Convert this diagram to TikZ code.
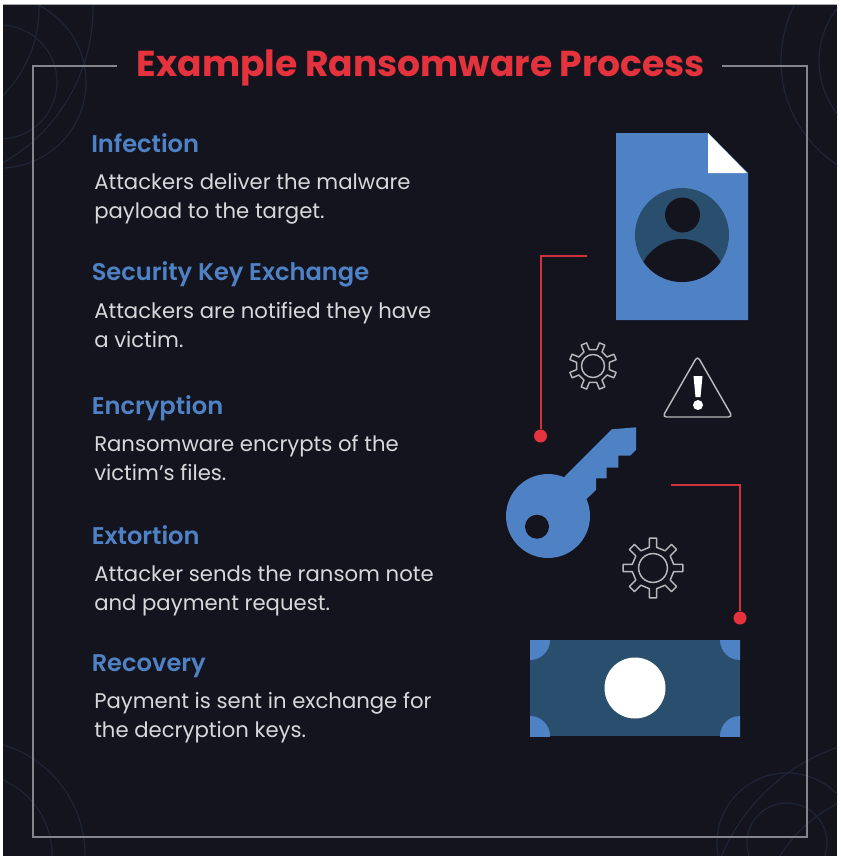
\documentclass[tikz,border=0pt]{standalone}
\usepackage{fontspec}
\setmainfont{Poppins}
\newfontfamily\semifont{Poppins SemiBold}
\definecolor{inkbg}{HTML}{14141F}
\definecolor{stepblue}{HTML}{4F82C4}
\definecolor{darkteal}{HTML}{2A4F6E}
\definecolor{alarmred}{HTML}{E5333D}
\definecolor{wirered}{HTML}{D2323C}
\definecolor{framegrey}{HTML}{85858D}
\definecolor{bodygrey}{HTML}{D8D8DB}
\definecolor{ringblue}{HTML}{1D2536}
\tikzset{
  stepname/.style={anchor=base west,inner sep=0pt,text=stepblue,font=\fontsize{18.1}{21}\semifont},
  stepbody/.style={anchor=base west,inner sep=0pt,align=left,text=bodygrey,font=\fontsize{15.9}{21.75}\selectfont},
  wire/.style={draw=wirered,line width=1.5pt},
  wiredot/.style={circle,fill=alarmred,inner sep=0pt,minimum size=9.75pt},
  cogline/.style={draw=bodygrey!85!black,line width=1.1pt,line join=round},
  ring/.style={draw=ringblue,line width=.9pt}
}
\begin{document}
\begin{tikzpicture}[x=.75pt,y=-.75pt]
  \useasboundingbox (0,0) rectangle (841,860);
  \fill[white] (0,0) rectangle (841,860);
  \fill[inkbg] (3,4) rectangle (837,856);
  \draw[framegrey!70,line width=.6pt] (3,4) -- (837,4);

  % rings in the corners
  \begin{scope}
    \clip (3,5) rectangle (837,855);
    \foreach \cx/\cy/\cr in {0/82/57,0/82/86,-85/8/178,-85/8/124,905/61/86,905/61/124,
      787/843/40,787/843/70,900/930/193,900/930/141,-30/855/115,-30/855/82}
      \draw[ring] (\cx,\cy) circle (\cr);
  \end{scope}

  % frame
  \coordinate (frameA) at (117,66);
  \coordinate (frameB) at (33,66);
  \coordinate (frameC) at (33,837);
  \coordinate (frameD) at (807,837);
  \coordinate (frameE) at (807,66);
  \coordinate (frameF) at (722,66);
  \draw[framegrey,line width=1.5pt] (frameA) -- (frameB) -- (frameC) -- (frameD) -- (frameE) -- (frameF);

  \node[anchor=base,inner sep=0pt,text=alarmred,font=\fontsize{27.05}{32}\selectfont\bfseries] (title) at (421,76) {Example Ransomware Process};

  \node[stepname] (infection) at (91,152) {Infection};
  \node[stepbody] (infectiontxt) at (94,218) {Attackers deliver the malware\\payload to the target.};
  \node[stepname] (exchange) at (91.5,280) {Security Key Exchange};
  \node[stepbody] (exchangetxt) at (94,347) {Attackers are notified they have\\a victim.};
  \node[stepname] (encryption) at (91.5,414) {Encryption};
  \node[stepbody] (encryptiontxt) at (94,480) {Ransomware encrypts of the\\victim's files.};
  \node[stepname] (extortion) at (91.5,544) {Extortion};
  \node[stepbody] (extortiontxt) at (94,610) {Attacker sends the ransom note\\and payment request.};
  \node[stepname] (recovery) at (91.5,671) {Recovery};
  \node[stepbody] (recoverytxt) at (94,737) {Payment is sent in exchange for\\the decryption keys.};

  % file with the victim
  \fill[stepblue] (616,133) -- (708,133) -- (748,173) -- (748,320) -- (616,320) -- cycle;
  \fill[white] (708,133) -- (747,173) -- (708,173) -- cycle;
  \fill[darkteal] (682,235) circle (47);
  \fill[inkbg] (682.5,215) circle (17.5);
  \begin{scope}
    \clip (682,235) circle (47);
    \fill[inkbg] (682,283) circle (44);
  \end{scope}

  % gears
  \foreach \gx/\gy/\gr/\grot in {593/366/24/22.5,653/568/30/0}
  {
    \begin{scope}[shift={(\gx,\gy)},rotate=\grot]
      \draw[cogline] (-10:\gr*.7)
        \foreach \a in {0,45,...,315} { -- (\a-10:\gr*.7) -- (\a-7:\gr) -- (\a+7:\gr) -- (\a+10:\gr*.7) } -- cycle;
      \draw[cogline] (0,0) circle (\gr*.48);
    \end{scope}
  }

  % warning sign
  \draw[cogline,rounded corners=3pt] (697.5,356) -- (732.5,417) -- (662.5,417) -- cycle;
  \fill[white] (693.5,376) -- (702.5,376) -- (700.5,397) -- (695.5,397) -- cycle;
  \fill[white] (698,405) circle (5);

  % key
  \fill[stepblue] (548,516) circle (42);
  \fill[stepblue] (565,476) -- (611.7,429.3) -- (636,427.3) -- (636,450) -- (630,455.7) -- (618.3,455.7)
    -- (618.3,467.7) -- (606.7,467.7) -- (606.7,478.3) -- (596,478.3) -- (596,490) -- (587.3,498.3) -- (548,516) -- cycle;
  \fill[inkbg] (537,526.7) circle (12);

  % money
  \fill[darkteal] (530,640) rectangle (740,736);
  \begin{scope}
    \clip (530,640) rectangle (740,736);
    \foreach \cx/\cy in {530/640,740/640,530/736,740/736}
      \fill[stepblue] (\cx,\cy) circle (20);
  \end{scope}
  \fill[white] (635,688) circle (30.5);

  % connectors
  \coordinate (filewire) at (587,256);
  \node[wiredot] (keydot) at (540.5,436) {};
  \coordinate (keywire) at (671,485);
  \node[wiredot] (moneydot) at (740,618) {};
  \foreach \from/\to in {filewire/keydot,keywire/moneydot}
    \draw[wire] (\from) -| (\to);
\end{tikzpicture}
\end{document}
